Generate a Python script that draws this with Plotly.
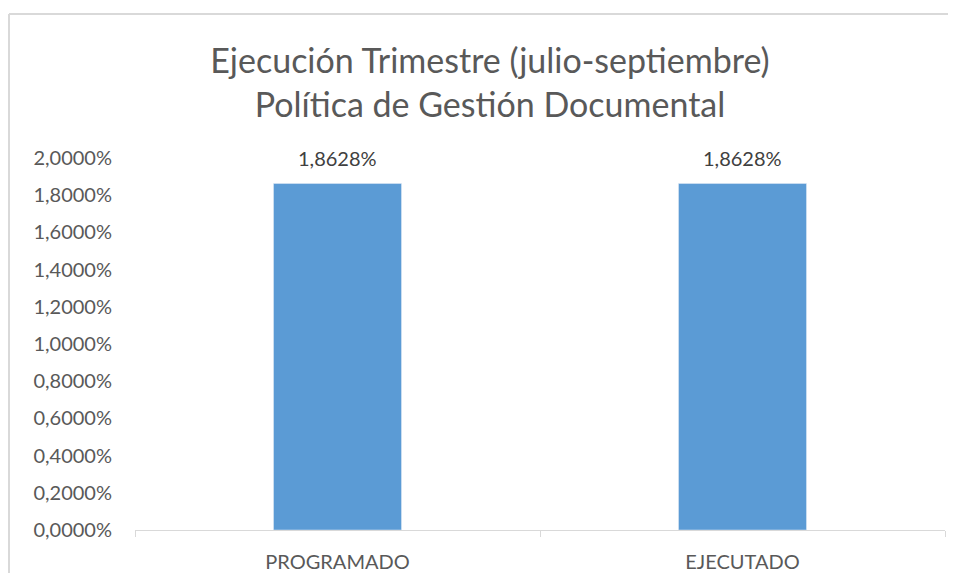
import plotly.graph_objects as go

# datos del trimestre julio-septiembre
categorias = ["PROGRAMADO", "EJECUTADO"]
valores = [0.018628, 0.018628]

titulo = "Ejecución Trimestre (julio-septiembre)<br>Política de Gestión Documental"

# la página añade 8px de margen alrededor; figura algo menor para no desbordar
W, H = 940, 565
L, R, T, B = 127, 3, 150, 43

fig = go.Figure()
fig.add_trace(go.Bar(
    x=categorias,
    y=valores,
    marker_color="#5B9BD5",
))

# etiquetas de datos encima de cada barra
for cat, val in zip(categorias, valores):
    fig.add_annotation(
        x=cat, y=val,
        text=f"{val * 100:.4f}%".replace(".", ","),
        showarrow=False,
        yanchor="middle",
        yshift=26,
        font=dict(size=20, color="#404040"),
    )

fig.update_layout(
    width=W,
    height=H,
    separators=",.",
    paper_bgcolor="rgba(0,0,0,0)",
    plot_bgcolor="rgba(0,0,0,0)",
    font=dict(family="Lato, Open Sans, sans-serif", color="#595959"),
    margin=dict(l=L, r=R, t=T, b=B),
    bargap=0.684,
    showlegend=False,
    title=dict(
        text=titulo,
        x=482 / W,
        xanchor="center",
        y=1 - 65 / H,
        yanchor="middle",
        font=dict(size=34, color="#595959"),
    ),
)

fig.update_yaxes(
    range=[0, 0.02],
    dtick=0.002,
    tickformat=".4%",
    showgrid=False,
    zeroline=False,
    showline=False,
    ticks="",
    automargin=False,
    ticklabelstandoff=22,
    tickfont=dict(size=20, color="#595959"),
)
fig.update_xaxes(
    showline=True,
    linecolor="#d9d9d9",
    linewidth=1,
    ticks="outside",
    tickson="boundaries",
    ticklen=6,
    tickcolor="#d9d9d9",
    automargin=False,
    ticklabelstandoff=14,
    tickfont=dict(size=20, color="#595959"),
)

# marco del gráfico: sólo se ven el borde superior y el izquierdo
plot_w = W - L - R
plot_h = H - T - B
x_izq = (1 - L) / plot_w
y_sup = (plot_h + T - 6) / plot_h
borde = dict(color="#d9d9d9", width=2)
fig.add_shape(type="line", xref="paper", yref="paper",
              x0=x_izq, x1=1.3, y0=y_sup, y1=y_sup, line=borde)
fig.add_shape(type="line", xref="paper", yref="paper",
              x0=x_izq, x1=x_izq, y0=-0.4, y1=y_sup, line=borde)

fig.write_html("out.html")
